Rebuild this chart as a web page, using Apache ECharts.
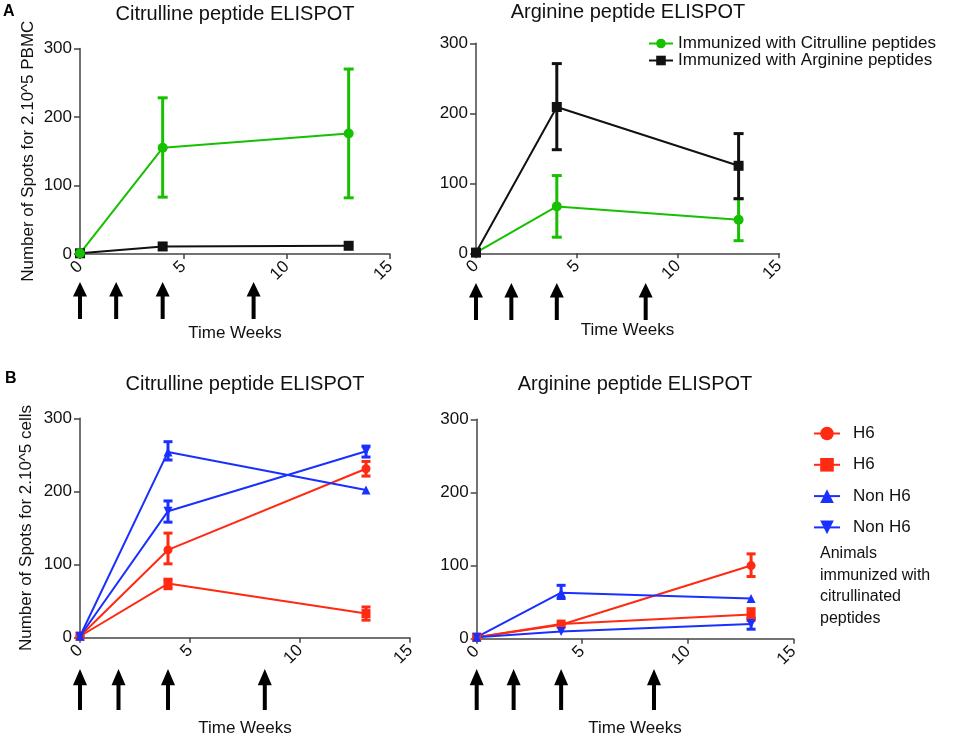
<!DOCTYPE html>
<html>
<head>
<meta charset="utf-8">
<script src="https://cdn.jsdelivr.net/npm/echarts@6/dist/echarts.min.js"></script>
<style>
html,body{margin:0;padding:0;background:#fff;}
#chart{width:965px;height:738px;}
</style>
</head>
<body>
<div id="chart"></div>
<script>
// ---------- data ----------
const weeks = [0, 4, 13];
const arrowWeeks = [0, 1.75, 4, 8.4];

// Panel A, Citrulline peptide ELISPOT
const aCit_citMean = [1, 155, 176];
const aCit_citLo   = [null, 83, 82];
const aCit_citHi   = [null, 228, 270];
const aCit_argMean = [1, 11, 12];

// Panel A, Arginine peptide ELISPOT
const aArg_citMean = [1, 67, 48];
const aArg_citLo   = [null, 23, 18];
const aArg_citHi   = [null, 111, 78];
const aArg_argMean = [1, 209, 125];
const aArg_argLo   = [null, 148, 78];
const aArg_argHi   = [null, 271, 171];

// Panel B, Citrulline peptide ELISPOT
const bCit_h6aMean = [2, 120, 231];
const bCit_h6aLo   = [null, 101, 221];
const bCit_h6aHi   = [null, 143, 241];
const bCit_h6bMean = [2, 74, 33];
const bCit_h6bLo   = [null, 67, 24];
const bCit_h6bHi   = [null, 80, 42];
const bCit_nonAMean = [2, 254, 202];
const bCit_nonALo   = [null, 243, null];
const bCit_nonAHi   = [null, 268, null];
const bCit_nonBMean = [2, 173, 255];
const bCit_nonBLo   = [null, 158, 247];
const bCit_nonBHi   = [null, 187, 262];

// Panel B, Arginine peptide ELISPOT
const bArg_h6aMean = [2, 19, 100];
const bArg_h6aLo   = [null, null, 85];
const bArg_h6aHi   = [null, null, 116];
const bArg_h6bMean = [2, 20, 33];
const bArg_h6bLo   = [null, null, 25];
const bArg_h6bHi   = [null, null, 41];
const bArg_nonAMean = [2, 63, 55];
const bArg_nonALo   = [null, 55, null];
const bArg_nonAHi   = [null, 73, null];
const bArg_nonBMean = [2, 10, 20];
const bArg_nonBLo   = [null, null, 13];
const bArg_nonBHi   = [null, null, 28];

const nameCitImm = 'Immunized with Citrulline peptides';
const nameArgImm = 'Immunized with Arginine peptides';
const nameH6a = 'H6', nameH6b = 'H6 ', nameNonA = 'Non H6', nameNonB = 'Non H6 ';

// ---------- styles ----------
const FONT = 'Liberation Sans, Arial, Helvetica, sans-serif';
const GREEN = '#17c000', BLACK = '#111111', RED = '#ff2a12', BLUE = '#1a30ff';
const AXIS_COLOR = '#444';
const TEXT = '#111';

const grids = [
  {left: 80,    top: 48.5,  width: 310,   height: 205.5}, // A left
  {left: 80,    top: 282,   width: 310,   height: 37},    // A left arrows
  {left: 476,   top: 43.3,  width: 303,   height: 210},   // A right
  {left: 476,   top: 283,   width: 303,   height: 37},    // A right arrows
  {left: 80,    top: 418.3, width: 330,   height: 219.4}, // B left
  {left: 80,    top: 669,   width: 330,   height: 41},    // B left arrows
  {left: 476.7, top: 419.3, width: 316.6, height: 219.4}, // B right
  {left: 476.7, top: 669,   width: 316.6, height: 41}     // B right arrows
];

function mainX(gi) {
  return {
    type: 'value', gridIndex: gi, min: 0, max: 15, interval: 5,
    splitLine: {show: false},
    axisLine: {show: true, onZero: false, lineStyle: {color: AXIS_COLOR, width: 1.5}},
    axisTick: {show: true, length: 5, lineStyle: {color: AXIS_COLOR, width: 1.5}},
    axisLabel: {rotate: 45, margin: 10, fontSize: 17, color: TEXT, fontFamily: FONT}
  };
}
function mainY(gi, name, gap) {
  return {
    type: 'value', gridIndex: gi, min: 0, max: 300, interval: 100,
    name: name || '', nameLocation: 'middle', nameGap: gap || 0, nameRotate: 90,
    nameTextStyle: {fontSize: 17, color: TEXT, fontFamily: FONT},
    splitLine: {show: false},
    axisLine: {show: true, onZero: false, lineStyle: {color: AXIS_COLOR, width: 1.5}},
    axisTick: {show: true, length: 6, lineStyle: {color: AXIS_COLOR, width: 1.5}},
    axisLabel: {margin: 8, fontSize: 17, color: TEXT, fontFamily: FONT}
  };
}
function arrowX(gi, gap) {
  return {
    type: 'value', gridIndex: gi, min: 0, max: 15,
    name: 'Time Weeks', nameLocation: 'middle', nameGap: gap,
    nameTextStyle: {fontSize: 17, color: TEXT, fontFamily: FONT},
    axisLine: {show: false}, axisTick: {show: false}, axisLabel: {show: false}, splitLine: {show: false}
  };
}
function arrowY(gi) {
  return {type: 'value', gridIndex: gi, min: 0, max: 1, show: false};
}

const ARROW = 'path://M7,0 L14,15 L9,15 L9,38 L5,38 L5,15 L0,15 Z';

function arrowSeries(xi, h) {
  return {
    type: 'scatter', xAxisIndex: xi, yAxisIndex: xi, silent: true,
    symbol: ARROW, symbolSize: [14, h],
    itemStyle: {color: '#000', opacity: 1},
    data: arrowWeeks.map(w => [w, 0.5])
  };
}

function lineSeries(name, xi, mean, color, symbol, size, rot) {
  return {
    type: 'line', name: name, xAxisIndex: xi, yAxisIndex: xi, z: 3,
    symbol: symbol, symbolSize: size, symbolRotate: rot || 0, showSymbol: true,
    lineStyle: {color: color, width: 2},
    itemStyle: {color: color},
    data: weeks.map((w, i) => [w, mean[i]])
  };
}

function errSeries(xi, lo, hi, color, cap, lw) {
  const data = [];
  weeks.forEach((w, i) => { if (lo[i] != null && hi[i] != null) data.push([w, lo[i], hi[i]]); });
  return {
    type: 'custom', xAxisIndex: xi, yAxisIndex: xi, z: 2, silent: true,
    encode: {x: 0, y: [1, 2]},
    data: data,
    renderItem: function (params, api) {
      const x = api.value(0);
      const p1 = api.coord([x, api.value(1)]);
      const p2 = api.coord([x, api.value(2)]);
      const h = cap / 2;
      const st = {stroke: color, lineWidth: lw};
      return {type: 'group', children: [
        {type: 'line', shape: {x1: p1[0], y1: p1[1], x2: p2[0], y2: p2[1]}, style: st},
        {type: 'line', shape: {x1: p1[0] - h, y1: p1[1], x2: p1[0] + h, y2: p1[1]}, style: st},
        {type: 'line', shape: {x1: p2[0] - h, y1: p2[1], x2: p2[0] + h, y2: p2[1]}, style: st}
      ]};
    }
  };
}

const titleStyle = {fontSize: 20, fontWeight: 'normal', color: TEXT, fontFamily: FONT};

const option = {
  animation: false,
  backgroundColor: '#fff',
  textStyle: {fontFamily: FONT},
  title: [
    {text: 'A', left: 3, top: 4, textStyle: {fontSize: 16, fontWeight: 'bold', color: '#000', fontFamily: FONT}, padding: 0},
    {text: 'B', left: 5, top: 371, textStyle: {fontSize: 16, fontWeight: 'bold', color: '#000', fontFamily: FONT}, padding: 0},
    {text: 'Citrulline peptide ELISPOT', left: 235, textAlign: 'center', top: 4, padding: 0, textStyle: titleStyle},
    {text: 'Arginine peptide ELISPOT', left: 628, textAlign: 'center', top: 2, padding: 0, textStyle: titleStyle},
    {text: 'Citrulline peptide ELISPOT', left: 245, textAlign: 'center', top: 374, padding: 0, textStyle: titleStyle},
    {text: 'Arginine peptide ELISPOT', left: 635, textAlign: 'center', top: 374, padding: 0, textStyle: titleStyle},
    {text: 'Animals\nimmunized with\ncitrullinated\npeptides', left: 820, top: 543, padding: 0,
     textStyle: {fontSize: 16, fontWeight: 'normal', color: TEXT, lineHeight: 21.5, fontFamily: FONT}}
  ],
  legend: [
    {data: [nameCitImm, nameArgImm], orient: 'vertical', left: 648, top: 35, padding: 0,
     itemGap: 0, itemWidth: 24, itemHeight: 12,
     textStyle: {fontSize: 17, color: TEXT, fontFamily: FONT, lineHeight: 16}},
    {data: [nameH6a, nameH6b, nameNonA, nameNonB], orient: 'vertical', left: 813, top: 425, padding: 0,
     itemGap: 14.3, itemWidth: 26, itemHeight: 17,
     textStyle: {fontSize: 17, color: TEXT, fontFamily: FONT, padding: [0, 0, 0, 8]}}
  ],
  grid: grids,
  xAxis: [mainX(0), arrowX(1, 6), mainX(2), arrowX(3, 2), mainX(4), arrowX(5, 10), mainX(6), arrowX(7, 10)],
  yAxis: [mainY(0, 'Number of Spots for 2.10^5 PBMC', 43), arrowY(1), mainY(2), arrowY(3),
          mainY(4, 'Number of Spots for 2.10^5 cells', 45), arrowY(5), mainY(6), arrowY(7)],
  series: [
    // A left
    errSeries(0, aCit_citLo, aCit_citHi, GREEN, 10, 3),
    lineSeries(nameArgImm, 0, aCit_argMean, BLACK, 'rect', 10),
    lineSeries(nameCitImm, 0, aCit_citMean, GREEN, 'circle', 10),
    arrowSeries(1, 37),
    // A right
    errSeries(2, aArg_citLo, aArg_citHi, GREEN, 10, 3),
    errSeries(2, aArg_argLo, aArg_argHi, BLACK, 10, 3),
    lineSeries(nameCitImm, 2, aArg_citMean, GREEN, 'circle', 10),
    lineSeries(nameArgImm, 2, aArg_argMean, BLACK, 'rect', 10),
    arrowSeries(3, 37),
    // B left
    errSeries(4, bCit_h6aLo, bCit_h6aHi, RED, 9, 3),
    errSeries(4, bCit_h6bLo, bCit_h6bHi, RED, 9, 3),
    errSeries(4, bCit_nonALo, bCit_nonAHi, BLUE, 9, 3),
    errSeries(4, bCit_nonBLo, bCit_nonBHi, BLUE, 9, 3),
    lineSeries(nameH6a, 4, bCit_h6aMean, RED, 'circle', 9),
    lineSeries(nameH6b, 4, bCit_h6bMean, RED, 'rect', 9),
    lineSeries(nameNonA, 4, bCit_nonAMean, BLUE, 'triangle', 9),
    lineSeries(nameNonB, 4, bCit_nonBMean, BLUE, 'triangle', 9, 180),
    arrowSeries(5, 41),
    // B right
    errSeries(6, bArg_h6aLo, bArg_h6aHi, RED, 9, 3),
    errSeries(6, bArg_h6bLo, bArg_h6bHi, RED, 9, 3),
    errSeries(6, bArg_nonALo, bArg_nonAHi, BLUE, 9, 3),
    errSeries(6, bArg_nonBLo, bArg_nonBHi, BLUE, 9, 3),
    lineSeries(nameH6a, 6, bArg_h6aMean, RED, 'circle', 9),
    lineSeries(nameH6b, 6, bArg_h6bMean, RED, 'rect', 9),
    lineSeries(nameNonA, 6, bArg_nonAMean, BLUE, 'triangle', 9),
    lineSeries(nameNonB, 6, bArg_nonBMean, BLUE, 'triangle', 9, 180),
    arrowSeries(7, 41)
  ]
};

const chart = echarts.init(document.getElementById('chart'), null, {renderer: 'canvas'});
chart.setOption(option);
</script>
</body>
</html>
